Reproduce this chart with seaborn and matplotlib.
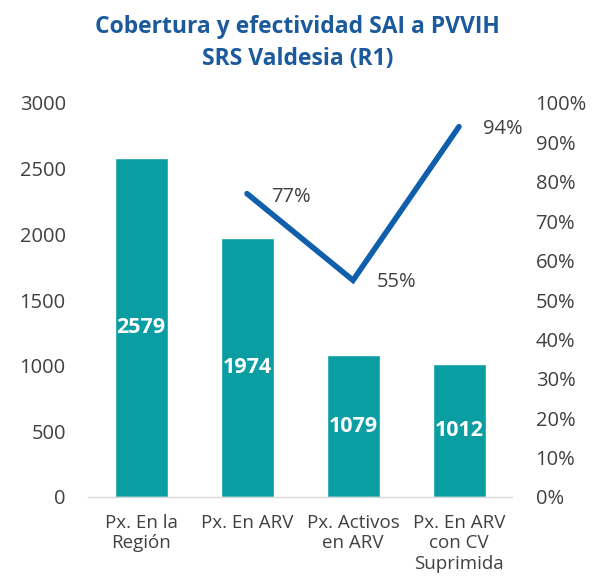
import matplotlib
matplotlib.use("Agg")
import matplotlib.pyplot as plt
import seaborn as sns
import pandas as pd

categories = ["Px. En la\nRegión", "Px. En ARV", "Px. Activos\nen ARV", "Px. En ARV\ncon CV\nSuprimida"]
patients = [2579, 1974, 1079, 1012]
pct_categories = ["Px. En ARV", "Px. Activos\nen ARV", "Px. En ARV\ncon CV\nSuprimida"]
pct_values = [0.77, 0.55, 0.94]
left_ticks = [0, 500, 1000, 1500, 2000, 2500, 3000]
right_ticks = [i / 10 for i in range(11)]

sns.set_theme(style="white")
plt.rcParams['font.family'] = ['Open Sans', 'DejaVu Sans']

bar_color = "#0A9EA3"
line_color = "#0F5FAD"
text_gray = "#404040"

fig = plt.figure(figsize=(5.95, 5.88), dpi=100)
ax = fig.add_axes([88/595, 91/588, 424/595, 394/588])

df = pd.DataFrame({"cat": categories, "val": patients})
sns.barplot(data=df, x="cat", y="val", color=bar_color, width=0.5, ax=ax, saturation=1)
ax.set_xlim(-0.5, 3.5)
ax.set_ylim(0, 3000)
ax.set_yticks(left_ticks)
ax.set_xlabel("")
ax.set_ylabel("")
for s in ["top", "right", "left"]:
    ax.spines[s].set_visible(False)
ax.spines["bottom"].set_color("#D9D9D9")
ax.spines["bottom"].set_linewidth(1)
ax.tick_params(axis="x", length=0, labelsize=13.5, colors=text_gray, pad=12)
ax.tick_params(axis="y", length=0, labelsize=14.5, colors=text_gray, pad=16)

for i, v in enumerate(patients):
    ax.text(i, v / 2, f"{v}", ha="center", va="center", color="white",
            fontsize=15.5, fontweight="bold")

ax2 = ax.twinx()
xpos = [categories.index(c) for c in pct_categories]
sns.lineplot(x=xpos, y=pct_values, color=line_color, linewidth=4, ax=ax2,
             solid_capstyle="round", solid_joinstyle="miter")
ax2.set_ylim(0, 1)
ax2.set_yticks(right_ticks)
ax2.set_yticklabels([f"{int(round(t*100))}%" for t in right_ticks])
ax2.set_xlim(-0.5, 3.5)
for s in ["top", "right", "left", "bottom"]:
    ax2.spines[s].set_visible(False)
ax2.tick_params(axis="y", length=0, labelsize=14.5, colors=text_gray, pad=17)
ax2.set_ylabel("")

offsets = [(0.41, -0.008), (0.415, -0.005), (0.41, -0.006)]
for x, v, (dx, dy) in zip(xpos, pct_values, offsets):
    ax2.text(x + dx, v + dy, f"{int(round(v*100))}%", ha="center", va="center",
             color=text_gray, fontsize=14.5)

fig.text(0.5, 1 - 27/588, "Cobertura y efectividad SAI a PVVIH", ha="center", va="center",
         color="#1B5A9C", fontsize=16.5, fontweight="bold")
fig.text(0.5, 1 - 59/588, "SRS Valdesia (R1)", ha="center", va="center",
         color="#1B5A9C", fontsize=16.5, fontweight="bold")

fig.savefig("out.png", dpi=100)
